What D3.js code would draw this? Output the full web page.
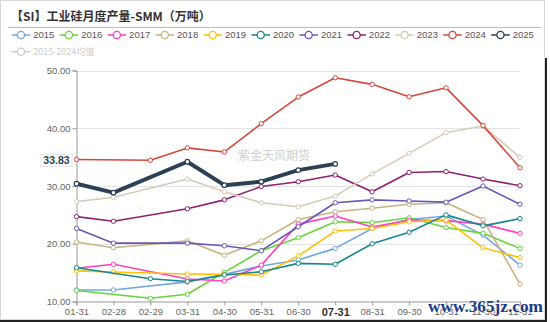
<!DOCTYPE html>
<html>
<head>
<meta charset="utf-8">
<script src="https://cdn.jsdelivr.net/npm/d3@7"></script>
<style>
  html, body { margin: 0; padding: 0; background: #fff; }
  svg { display: block; }
  text { font-family: "Liberation Sans", Arial, sans-serif; }
</style>
</head>
<body>
<svg id="chart" width="550" height="322"></svg>
<script>
// Month-end dates; 02-28 is used in common years, 02-29 in leap years
const categories = ["01-31", "02-28", "02-29", "03-31", "04-30", "05-31", "06-30",
                    "07-31", "08-31", "09-30", "10-31", "11-30", "12-31"];

const years = ["2015", "2016", "2017", "2018", "2019", "2020",
               "2021", "2022", "2023", "2024", "2025"];

const colors = ["#72a8e0", "#66d43c", "#ff40c0", "#c9b37f", "#ffc000", "#17868f",
                "#6a58b8", "#8e2170", "#d8cab6", "#d8463c", "#2d4154"];

// Monthly output, 10k tonnes
const v2015 = [12.0, 12.0, null, 13.4, 14.7, 16.15, 17.2, 19.2, 22.65, 24.2, 24.8, 21.5, 16.3];
const v2016 = [11.9, null, 10.55, 11.25, 15.05, 18.8, 21.05, 23.8, 23.65, 24.5, 22.8, 21.8, 19.2];
const v2017 = [15.75, 16.45, null, 13.9, 13.55, 16.3, 23.4, 24.8, 22.9, 24.1, 24.0, 23.4, 21.8];
const v2018 = [20.3, 19.3, null, 20.5, 18.0, 20.5, 24.2, 25.55, 26.15, 26.85, 27.1, 24.2, 13.0];
const v2019 = [15.3, 15.1, null, 14.75, 14.7, 14.6, 17.9, 22.2, 22.65, 23.8, 24.1, 19.3, 17.6];
const v2020 = [15.85, null, 13.95, 13.45, 14.6, 15.15, 16.6, 16.45, 20.0, 22.0, 25.0, 23.1, 24.35];
const v2021 = [22.65, 20.1, null, 20.1, 19.65, 18.8, 22.95, 27.1, 27.6, 27.4, 27.2, 30.0, 26.85];
const v2022 = [24.7, 23.9, null, 26.05, 27.6, 29.9, 30.75, 31.9, 29.0, 32.35, 32.5, 31.2, 30.05];
const v2023 = [27.3, 28.05, null, 31.2, 29.0, 27.1, 26.4, 28.25, 32.1, 35.65, 39.25, 40.4, 34.95];
const v2024 = [34.6, null, 34.45, 36.6, 35.9, 40.8, 45.4, 48.75, 47.6, 45.45, 47.0, 40.45, 33.15];
const v2025 = [30.4, 28.85, null, 34.2, 30.15, 30.75, 32.75, 33.83, null, null, null, null, null];

const seriesValues = [v2015, v2016, v2017, v2018, v2019, v2020,
                      v2021, v2022, v2023, v2024, v2025];

const yTicks = [10, 20, 30, 40, 50];
const highlightCategory = "07-31";
const highlightValue = 33.83;
const avgLabel = "2015-2024均值";

const svg = d3.select("#chart");

// frame
svg.append("rect").attr("x", 0.5).attr("y", 0.5).attr("width", 544).attr("height", 319)
  .attr("fill", "none").attr("stroke", "#d8d8d8");
svg.append("line").attr("x1", 546).attr("x2", 546).attr("y1", 58).attr("y2", 322)
  .attr("stroke", "#222").attr("stroke-width", 2);
svg.append("line").attr("x1", 0).attr("x2", 547).attr("y1", 321).attr("y2", 321)
  .attr("stroke", "#222").attr("stroke-width", 2);

// title
svg.append("text").attr("x", 11).attr("y", 21)
  .style("font-family", "'Noto Sans CJK SC', sans-serif")
  .style("font-size", "12px").style("font-weight", "bold").attr("fill", "#333")
  .text("【SI】工业硅月度产量-SMM（万吨）");
svg.append("line").attr("x1", 8).attr("x2", 541).attr("y1", 27.5).attr("y2", 27.5)
  .attr("stroke", "#bdbdbd").attr("stroke-width", 1);

// legend
const legendStep = 47.95;
years.forEach((yr, i) => {
  const x0 = 11.7 + i * legendStep, cy = 35;
  const g = svg.append("g");
  g.append("line").attr("x1", x0).attr("x2", x0 + 18.5).attr("y1", cy).attr("y2", cy)
    .attr("stroke", colors[i]).attr("stroke-width", 1.5);
  g.append("circle").attr("cx", x0 + 9.25).attr("cy", cy).attr("r", 3.6)
    .attr("fill", "#fff").attr("stroke", colors[i]).attr("stroke-width", 1.3);
  g.append("text").attr("x", x0 + 21.5).attr("y", cy).attr("dy", "0.35em")
    .style("font-size", "9.5px").attr("fill", "#555").text(yr);
});
{
  const x0 = 11.7, cy = 51.7;
  svg.append("line").attr("x1", x0).attr("x2", x0 + 18.5).attr("y1", cy).attr("y2", cy)
    .attr("stroke", "#ccc").attr("stroke-width", 1.5);
  svg.append("circle").attr("cx", x0 + 9.25).attr("cy", cy).attr("r", 3.6)
    .attr("fill", "#fff").attr("stroke", "#ccc").attr("stroke-width", 1.3);
  svg.append("text").attr("x", x0 + 21.5).attr("y", cy).attr("dy", "0.35em")
    .style("font-family", "'Noto Sans CJK SC', sans-serif")
    .style("font-size", "9px").attr("fill", "#ccc").text(avgLabel);
}

// scales
const x = d3.scalePoint().domain(categories).range([76.5, 520]);
const y = d3.scaleLinear().domain([10, 50]).range([301.5, 70.5]);

// grid lines
svg.append("g").selectAll("line").data(yTicks.filter(t => t > 10)).join("line")
  .attr("x1", 76.5).attr("x2", 520)
  .attr("y1", d => Math.round(y(d)) + 0.5).attr("y2", d => Math.round(y(d)) + 0.5)
  .attr("stroke", "#e3e3e3").attr("stroke-width", 1);

// y axis
const yAxis = svg.append("g").attr("transform", "translate(76.5,0)")
  .call(d3.axisLeft(y).tickValues(yTicks).tickFormat(d3.format(".2f")).tickSize(4).tickPadding(2));
yAxis.select(".domain").attr("stroke", "#999");
yAxis.selectAll(".tick line").attr("stroke", "#999");
yAxis.selectAll(".tick text").attr("fill", "#666").style("font-size", "9.5px")
  .style("font-family", "'Liberation Sans', Arial, sans-serif");

// x axis
const xAxis = svg.append("g").attr("transform", "translate(0,301.5)")
  .call(d3.axisBottom(x).tickSize(4).tickPadding(3));
xAxis.select(".domain").attr("stroke", "#999");
xAxis.selectAll(".tick line").attr("stroke", "#999");
xAxis.selectAll(".tick text").attr("fill", "#666").style("font-size", "9.5px")
  .style("font-family", "'Liberation Sans', Arial, sans-serif");
xAxis.selectAll(".tick text").filter(d => d === highlightCategory)
  .attr("fill", "#333").style("font-weight", "bold").style("font-size", "11px");

// watermark
svg.append("text").attr("x", 274).attr("y", 156).attr("text-anchor", "middle").attr("dy", "0.35em")
  .style("font-family", "'Noto Sans CJK SC', sans-serif").style("font-size", "12px")
  .attr("fill", "#cfcfcf").text("紫金天风期货");

// series lines (missing days skipped and joined)
const line = d3.line()
  .x(d => x(d.c)).y(d => y(d.v));

years.forEach((yr, i) => {
  const pts = categories.map((c, j) => ({ c, v: seriesValues[i][j] })).filter(d => d.v != null);
  const isCurrent = yr === "2025";
  const g = svg.append("g");
  g.append("path").datum(pts).attr("d", line).attr("fill", "none")
    .attr("stroke", colors[i]).attr("stroke-width", isCurrent ? 4 : 1.6)
    .attr("stroke-linejoin", "round");
  g.selectAll("circle").data(pts).join("circle")
    .attr("cx", d => x(d.c)).attr("cy", d => y(d.v)).attr("r", isCurrent ? 2.3 : 2.2)
    .attr("fill", "#fff").attr("stroke", colors[i]).attr("stroke-width", isCurrent ? 1.2 : 1);
});

// value label on the y axis
{
  const cy = y(highlightValue) - 3.5;
  svg.append("rect").attr("x", 41).attr("y", cy - 6).attr("width", 31).attr("height", 12)
    .attr("fill", "#fff").attr("stroke", "#e2e2e2").attr("stroke-width", 1);
  svg.append("text").attr("x", 56.5).attr("y", cy).attr("dy", "0.36em").attr("text-anchor", "middle")
    .style("font-size", "10.5px").style("font-weight", "bold").attr("fill", "#2d4154")
    .text(d3.format(".2f")(highlightValue));
}

// site mark
svg.append("text").attr("x", 428).attr("y", 312)
  .style("font-family", "'Liberation Serif', 'DejaVu Serif', serif").style("font-size", "17px")
  .style("font-weight", "bold")
  .attr("fill", "#1c3b86").attr("stroke", "#fff").attr("stroke-width", 0.6).attr("paint-order", "stroke")
  .attr("textLength", 115).attr("lengthAdjust", "spacingAndGlyphs")
  .text("www.365jz.com");
</script>
</body>
</html>
